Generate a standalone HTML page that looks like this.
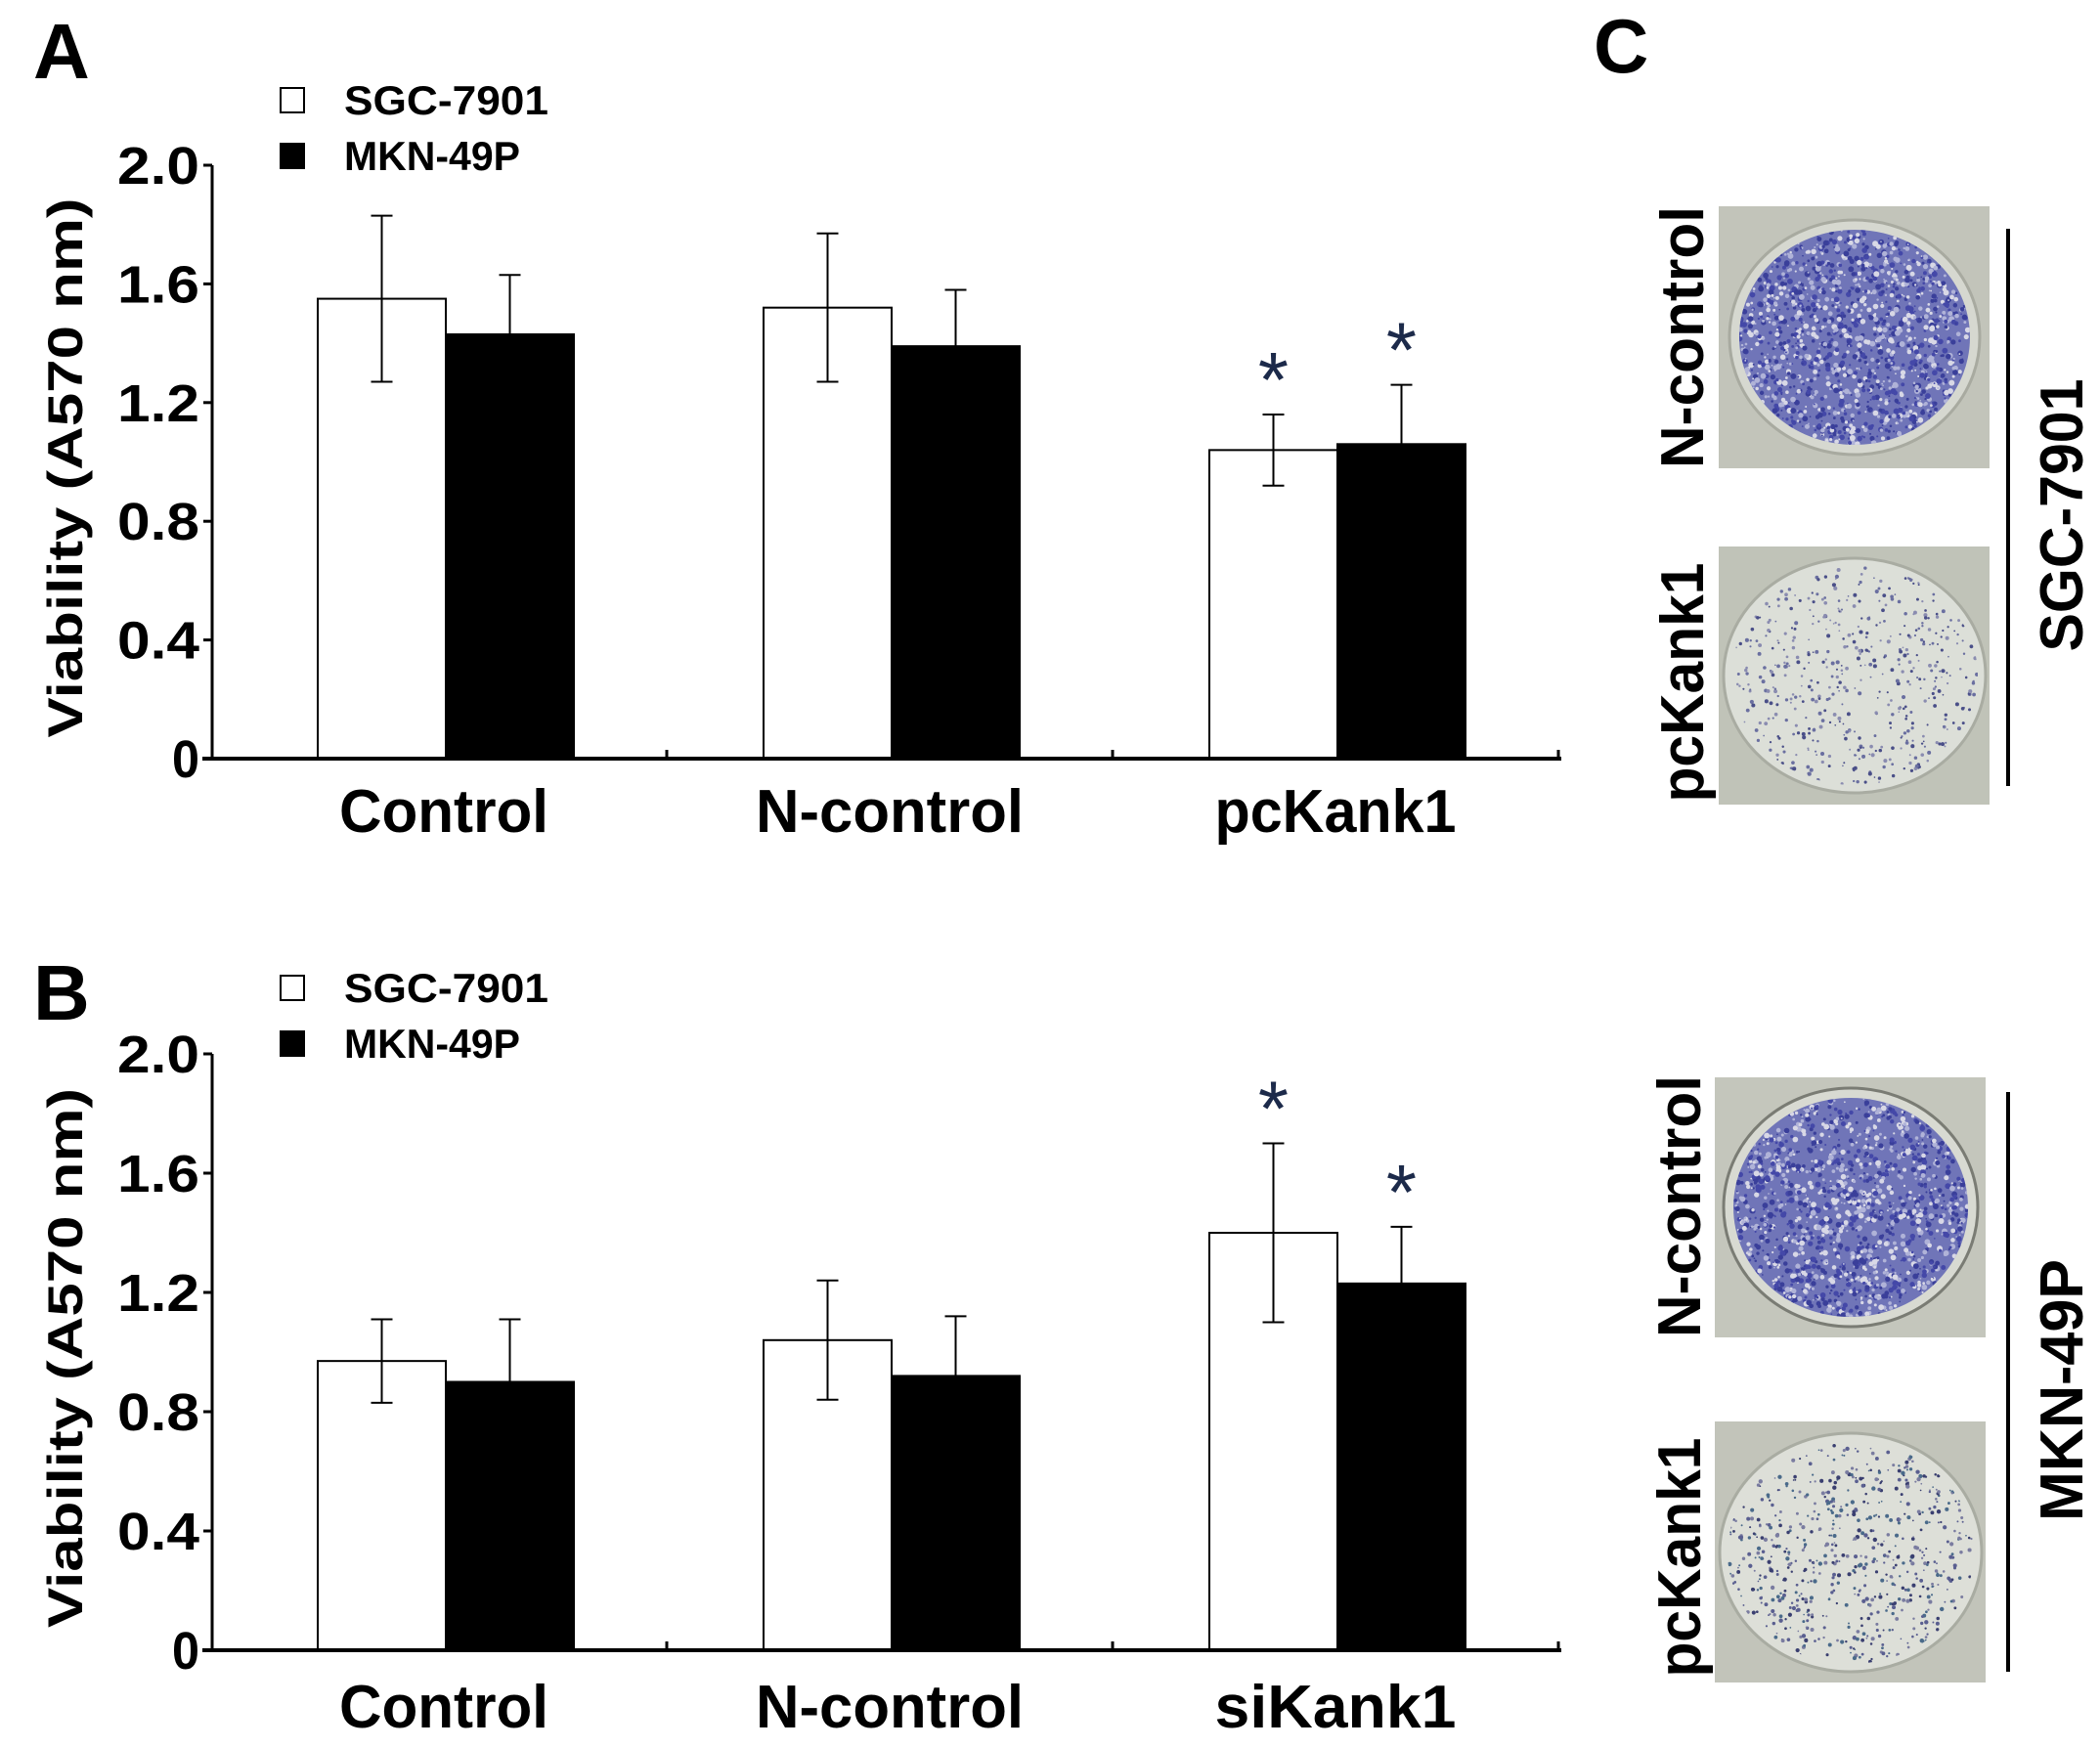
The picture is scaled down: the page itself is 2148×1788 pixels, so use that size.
<!DOCTYPE html>
<html><head><meta charset="utf-8"><style>
html,body{margin:0;padding:0;background:#fff;}
svg{display:block;}
text{font-family:"Liberation Sans",sans-serif;font-weight:bold;fill:#000;}
</style></head><body>
<svg id="fig" width="2148" height="1788" viewBox="0 0 2148 1788" xmlns="http://www.w3.org/2000/svg">
<defs>
<clipPath id="c1"><ellipse cx="1897" cy="345" rx="118" ry="110"/></clipPath>
<clipPath id="c2"><ellipse cx="1897" cy="691" rx="126" ry="112"/></clipPath>
<clipPath id="c3"><ellipse cx="1893" cy="1235" rx="120" ry="112"/></clipPath>
<clipPath id="c4"><ellipse cx="1893" cy="1588" rx="126" ry="114"/></clipPath>
</defs>
<g id="panelA"></g>
<g id="panelB"></g>
<g id="panelC">
  <text x="1630" y="74" font-size="78">C</text>
  <rect x="1758" y="211" width="277" height="268" fill="#c2c4ba"/>
  <ellipse cx="1897" cy="345" rx="128" ry="120" fill="#d6d8d0" stroke="#a8aaa0" stroke-width="3"/>
  <ellipse cx="1897" cy="345" rx="118" ry="110" fill="#7075b8"/>
  <g id="d1" clip-path="url(#c1)"></g>
  <rect x="1758" y="559" width="277" height="264" fill="#c0c3b8"/>
  <ellipse cx="1897" cy="691" rx="134" ry="120" fill="#dcdfd8" stroke="#a9aca2" stroke-width="3"/>
  <g id="d2" clip-path="url(#c2)"></g>
  <rect x="1754" y="1102" width="277" height="266" fill="#c4c6bc"/>
  <ellipse cx="1893" cy="1235" rx="130" ry="122" fill="#d8dad2" stroke="#7a7c74" stroke-width="3"/>
  <ellipse cx="1893" cy="1235" rx="120" ry="112" fill="#7075b8"/>
  <g id="d3" clip-path="url(#c3)"></g>
  <rect x="1754" y="1454" width="277" height="267" fill="#c2c4ba"/>
  <ellipse cx="1893" cy="1588" rx="134" ry="122" fill="#dddfd8" stroke="#a9aca2" stroke-width="3"/>
  <g id="d4" clip-path="url(#c4)"></g>
  <text transform="translate(1742,345) rotate(-90)" text-anchor="middle" font-size="62" textLength="268" lengthAdjust="spacingAndGlyphs">N-control</text>
  <text transform="translate(1742,698) rotate(-90)" text-anchor="middle" font-size="62" textLength="245" lengthAdjust="spacingAndGlyphs">pcKank1</text>
  <text transform="translate(1739,1234) rotate(-90)" text-anchor="middle" font-size="62" textLength="268" lengthAdjust="spacingAndGlyphs">N-control</text>
  <text transform="translate(1739,1593) rotate(-90)" text-anchor="middle" font-size="62" textLength="245" lengthAdjust="spacingAndGlyphs">pcKank1</text>
  <line x1="2054" y1="234" x2="2054" y2="804" stroke="#000" stroke-width="4"/>
  <line x1="2054" y1="1117" x2="2054" y2="1710" stroke="#000" stroke-width="4"/>
  <text transform="translate(2130,527) rotate(-90)" text-anchor="middle" font-size="62" textLength="279" lengthAdjust="spacingAndGlyphs">SGC-7901</text>
  <text transform="translate(2130,1422) rotate(-90)" text-anchor="middle" font-size="62" textLength="268" lengthAdjust="spacingAndGlyphs">MKN-49P</text>
</g>
</svg>
<script>
// Panel A data
const catsA = ["Control", "N-control", "pcKank1"];
const sgcA = [1.55, 1.52, 1.04];
const sgcErrA = [0.28, 0.25, 0.12];
const mknA = [1.43, 1.39, 1.06];
const mknErrA = [0.2, 0.19, 0.2];
const starsA = [false, false, true];
// Panel B data
const catsB = ["Control", "N-control", "siKank1"];
const sgcB = [0.97, 1.04, 1.4];
const sgcErrB = [0.14, 0.2, 0.3];
const mknB = [0.9, 0.92, 1.23];
const mknErrB = [0.21, 0.2, 0.19];
const starsB = [false, false, true];
const yTicks = [0, 0.4, 0.8, 1.2, 1.6, 2.0];
const yTickLabels = ["0", "0.4", "0.8", "1.2", "1.6", "2.0"];
const legendLabels = ["SGC-7901", "MKN-49P"];

const NS = "http://www.w3.org/2000/svg";
function mk(parent, tag, attrs, txt){
  const e = document.createElementNS(NS, tag);
  for (const k in attrs) e.setAttribute(k, attrs[k]);
  if (txt !== undefined) e.textContent = txt;
  parent.appendChild(e);
  return e;
}

function drawPanel(g, o){
  const x0 = 217, x1 = 1597, band = 456, bw = 131;
  const y = v => o.y0 - v * (o.y0 - o.y2) / 2.0;
  const cx = i => 456 + band * i;
  let t = mk(g, "text", {x: 34, y: o.letterY, "font-size": 80});
  t.textContent = o.letter;
  
  
  for (let k = 0; k < 2; k++) {
    const ly = o.legY + k * 57;
    const r = mk(g, "rect", {x: 287, y: ly - 12, width: 24, height: 25, fill: k ? "#000" : "#fff", stroke: "#000", "stroke-width": 2});
    
    
    const lt = mk(g, "text", {x: 352, y: ly + 15, "font-size": 42, textLength: k ? 180 : 209, lengthAdjust: "spacingAndGlyphs"}, legendLabels[k]);
    
    
  }
  const yt = mk(g, "text", {transform: `translate(84,${(o.y0 + o.y2) / 2 + 6}) rotate(-90)`, "text-anchor": "middle", "font-size": 50, textLength: 552, lengthAdjust: "spacingAndGlyphs"}, "Viability (A570 nm)");
  
  
  for (let i = 0; i < 3; i++) {
    const series = [[o.sgc, o.sgcErr, "#fff"], [o.mkn, o.mknErr, "#000"]];
    series.forEach((s, k) => {
      const v = s[0][i], e = s[1][i];
      const bx = cx(i) - bw + k * bw;
      const b = mk(g, "rect", {x: bx, y: y(v), width: bw, height: o.y0 - y(v), fill: s[2], stroke: "#000", "stroke-width": 2});
      
      
      const ex = bx + bw / 2;
      const eg = mk(g, "g", {stroke: "#000", "stroke-width": 2});
      
      
      mk(eg, "line", {x1: ex, x2: ex, y1: y(v + e), y2: y(v - e)});
      mk(eg, "line", {x1: ex - 11, x2: ex + 11, y1: y(v + e), y2: y(v + e)});
      mk(eg, "line", {x1: ex - 11, x2: ex + 11, y1: y(v - e), y2: y(v - e)});
      if (o.stars[i]) {
        const st = mk(g, "text", {x: ex, y: y(v + e) - 8, "text-anchor": "middle", "font-size": 80, style: "fill:#1c2a4a;font-weight:normal"}, "*");
        
        
      }
    });
    const cl = mk(g, "text", {x: cx(i) - 2, y: o.catY, "text-anchor": "middle", "font-size": 62, textLength: [214, 274, 247][i], lengthAdjust: "spacingAndGlyphs"}, o.cats[i]);
    
    
    const ct = mk(g, "line", {x1: x0 + band * (i + 1) + 9, x2: x0 + band * (i + 1) + 9, y1: o.y0, y2: o.y0 - 9, stroke: "#000", "stroke-width": 3});
    
    
  }
  const ya = mk(g, "line", {x1: x0, x2: x0, y1: o.y2, y2: o.y0, stroke: "#000", "stroke-width": 3});
  
  
  const xa = mk(g, "line", {x1: x0 - 10, x2: x1, y1: o.y0, y2: o.y0, stroke: "#000", "stroke-width": 4});
  
  
  yTicks.forEach((v, j) => {
    mk(g, "line", {x1: x0 - 9, x2: x0, y1: y(v), y2: y(v), stroke: "#000", "stroke-width": 3});
    const tl = mk(g, "text", {x: 204, y: y(v) + 19, "text-anchor": "end", "font-size": 54}, yTickLabels[j]);
    tl.setAttribute("textLength", j > 0 ? 84 : 28);
    tl.setAttribute("lengthAdjust", "spacingAndGlyphs");
    
    
  });
}

drawPanel(document.getElementById("panelA"), {letter: "A", letterY: 80, legY: 102, y0: 776, y2: 169, catY: 851,
  cats: catsA, sgc: sgcA, sgcErr: sgcErrA, mkn: mknA, mknErr: mknErrA, stars: starsA});
drawPanel(document.getElementById("panelB"), {letter: "B", letterY: 1043, legY: 1010, y0: 1688, y2: 1078, catY: 1767,
  cats: catsB, sgc: sgcB, sgcErr: sgcErrB, mkn: mknB, mknErr: mknErrB, stars: starsB});

let seed = 12345;
function rnd(){ seed = (seed * 1103515245 + 12345) % 2147483648; return seed / 2147483648; }
function speckle(id, cx, cy, rx, ry, n, colors, rmax){
  const g = document.getElementById(id);
  for (let i = 0; i < n; i++) {
    const a = rnd() * Math.PI * 2, r = Math.sqrt(rnd());
    mk(g, "circle", {cx: cx + Math.cos(a) * r * rx, cy: cy + Math.sin(a) * r * ry, r: 0.8 + rnd() * rmax, fill: colors[Math.floor(rnd() * colors.length)]});
  }
}
speckle("d1", 1897, 345, 118, 110, 1400, ["#d8d8e6", "#3a3f9a", "#b0b3d8", "#4448a8"], 2.2);
speckle("d2", 1897, 691, 126, 112, 500, ["#4a4f88", "#6a6fa0", "#8a8cb0"], 1.3);
speckle("d3", 1893, 1235, 120, 112, 1400, ["#d8d8e6", "#3a3f9a", "#b0b3d8", "#4448a8"], 2.2);
speckle("d4", 1893, 1588, 126, 114, 650, ["#3a3f70", "#5a5f90", "#7a7ca0", "#4a6a8a"], 1.4);
</script>
</body></html>
